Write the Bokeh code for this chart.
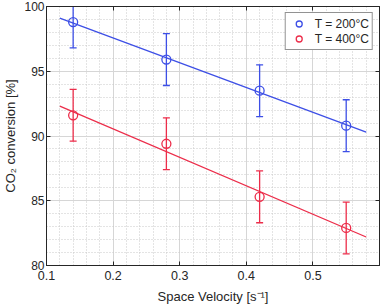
from bokeh.plotting import figure
from bokeh.models import (ColumnDataSource, Whisker, TeeHead, LinearAxis, Range1d,
                          SingleIntervalTicker, Legend, LegendItem, CustomJSTickFormatter)
from bokeh.embed import file_html
from bokeh.resources import INLINE

# data
space_velocity = [0.14, 0.28, 0.42, 0.55]
conv_200 = [98.8, 95.9, 93.5, 90.8]
conv_400 = [91.6, 89.4, 85.3, 82.9]
err_200 = [2.0, 2.0, 2.0, 2.0]
err_400 = [2.0, 2.0, 2.0, 2.0]
fit_x = [0.12, 0.58]
fit_200 = [99.1, 90.3]
fit_400 = [92.3, 82.2]
labels = ["T = 200°C", "T = 400°C"]

BLUE = "#3d4fe6"
RED = "#ec2d4a"
FONT = "Liberation Sans"

p = figure(frame_width=333, frame_height=259, output_backend="svg", toolbar_location=None,
           x_range=Range1d(0.1, 0.6), y_range=Range1d(80, 100),
           min_border_left=1, min_border_right=2, min_border_top=6, min_border_bottom=2)
p.outline_line_color = "#262626"
p.outline_line_width = 1
p.background_fill_color = "white"
p.border_fill_color = "white"

xt = SingleIntervalTicker(interval=0.1, num_minor_ticks=5)
yt = SingleIntervalTicker(interval=5, num_minor_ticks=5)
p.xaxis.ticker = xt
p.yaxis.ticker = yt
p.xgrid.ticker = xt
p.ygrid.ticker = yt

for ax in (p.xaxis[0], p.yaxis[0]):
    ax.major_tick_in = 4
    ax.major_tick_out = 0
    ax.minor_tick_in = 0
    ax.minor_tick_out = 0
    ax.axis_line_color = "#262626"
    ax.major_tick_line_color = "#262626"
    ax.major_label_text_font = FONT
    ax.major_label_text_font_size = "12.5px"
    ax.major_label_text_color = "#262626"
    ax.axis_label_text_font = FONT
    ax.axis_label_text_font_size = "13px"
    ax.axis_label_text_font_style = "normal"
    ax.axis_label_text_color = "#262626"
p.yaxis.major_label_text_font_size = "12px"
p.xaxis.major_label_standoff = 5
p.yaxis.major_label_standoff = 2
p.xaxis.axis_label = "Space Velocity [s⁻¹]"
p.yaxis.axis_label = "CO₂ conversion [%]"
p.xaxis.axis_label_standoff = 6
p.yaxis.axis_label_standoff = 3
p.xaxis.formatter.use_scientific = False

blank = CustomJSTickFormatter(code="return ''")
for loc, tk in (("above", xt), ("right", yt)):
    a = LinearAxis(ticker=tk, major_tick_in=4, major_tick_out=0, minor_tick_in=0,
                   minor_tick_out=0, formatter=blank,
                   major_label_standoff=0, axis_line_color="#262626",
                   major_tick_line_color="#262626")
    p.add_layout(a, loc)

p.xgrid.grid_line_color = "#d6d6d6"
p.ygrid.grid_line_color = "#d6d6d6"
p.xgrid.minor_grid_line_color = "#c8c8c8"
p.ygrid.minor_grid_line_color = "#c8c8c8"
p.xgrid.minor_grid_line_dash = "1 2"
p.ygrid.minor_grid_line_dash = "1 2"

src200 = ColumnDataSource(dict(x=space_velocity, y=conv_200,
                               lo=[v - e for v, e in zip(conv_200, err_200)],
                               hi=[v + e for v, e in zip(conv_200, err_200)]))
src400 = ColumnDataSource(dict(x=space_velocity, y=conv_400,
                               lo=[v - e for v, e in zip(conv_400, err_400)],
                               hi=[v + e for v, e in zip(conv_400, err_400)]))

p.line(fit_x, fit_200, line_color=BLUE, line_width=1.3)
p.line(fit_x, fit_400, line_color=RED, line_width=1.3)

for src, col in ((src200, BLUE), (src400, RED)):
    w = Whisker(source=src, base="x", lower="lo", upper="hi", line_color=col, line_width=1.3,
                upper_head=TeeHead(size=7, line_color=col, line_width=1.3),
                lower_head=TeeHead(size=7, line_color=col, line_width=1.3))
    p.add_layout(w)

r1 = p.scatter("x", "y", source=src200, marker="circle", size=9, fill_color=None,
               line_color=BLUE, line_width=1.3)
r2 = p.scatter("x", "y", source=src400, marker="circle", size=9, fill_color=None,
               line_color=RED, line_width=1.3)

legend = Legend(items=[LegendItem(label=labels[0], renderers=[r1]),
                       LegendItem(label=labels[1], renderers=[r2])],
                location="top_right")
legend.label_text_font = FONT
legend.label_text_font_size = "12px"
legend.label_text_color = "#262626"
legend.border_line_color = "#262626"
legend.border_line_width = 1
legend.background_fill_alpha = 1
legend.margin = 6
legend.padding = 3
legend.spacing = 0
legend.glyph_width = 20
legend.glyph_height = 15
legend.label_height = 14
legend.label_standoff = 6
p.add_layout(legend)

open("out.html", "w").write(file_html(p, INLINE))
